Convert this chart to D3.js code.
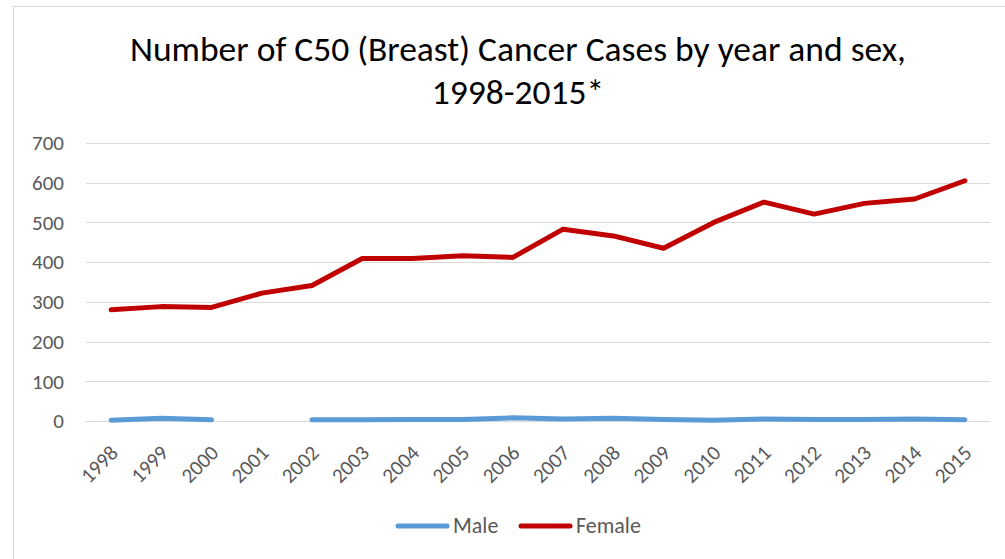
<!DOCTYPE html>
<html>
<head>
<meta charset="utf-8">
<script src="https://cdn.jsdelivr.net/npm/d3@7"></script>
<style>
  html, body { margin: 0; padding: 0; background: #fff; }
  svg { display: block; }
</style>
</head>
<body>
<svg id="chart" width="1005" height="559"></svg>
<script>
const years = ["1998","1999","2000","2001","2002","2003","2004","2005","2006","2007","2008","2009","2010","2011","2012","2013","2014","2015"];
const maleValues = [2, 7, 3, null, 3, 3, 4, 4, 8, 5, 7, 4, 2, 5, 4, 4, 5, 3];
const femaleValues = [280, 288, 286, 322, 341, 409, 409, 416, 412, 483, 466, 435, 500, 551, 521, 548, 559, 605];
const yTicks = [0, 100, 200, 300, 400, 500, 600, 700];
const titleLines = ["Number of C50 (Breast) Cancer Cases by year and sex,", "1998-2015*"];
const seriesNames = ["Male", "Female"];
const seriesColors = ["#5b9bd5", "#c00000"];

(function () {
const font = "'Carlito', 'Lato', sans-serif";
const svg = d3.select("#chart");

// chart border
svg.append("rect").attr("x", 13.5).attr("y", 6.5).attr("width", 1100).attr("height", 600)
  .attr("fill", "none").attr("stroke", "#d9d9d9").attr("stroke-width", 1);

const pLeft = 86, pRight = 990, pTop = 143, pBottom = 421;

const x = d3.scaleBand().domain(years).range([pLeft, pRight]).padding(0);
const y = d3.scaleLinear().domain([0, 700]).range([pBottom, pTop]);

// title
svg.append("g").selectAll("text").data(titleLines).enter().append("text")
  .attr("x", 518).attr("y", (d, i) => 61 + i * 42.5)
  .attr("text-anchor", "middle")
  .attr("font-family", font).attr("font-size", 35.5).attr("fill", "#000")
  .text(d => d);

// gridlines
svg.append("g").selectAll("line").data(yTicks).enter().append("line")
  .attr("x1", pLeft).attr("x2", pRight)
  .attr("y1", d => Math.round(y(d)) + 0.5).attr("y2", d => Math.round(y(d)) + 0.5)
  .attr("stroke", "#d9d9d9").attr("stroke-width", 1);

// y axis labels
const yAxis = d3.axisLeft(y).tickValues(yTicks).tickSize(0).tickPadding(0);
const yg = svg.append("g").attr("transform", `translate(${pLeft - 22},0)`).call(yAxis);
yg.select(".domain").remove();
yg.selectAll("text").attr("font-family", font).attr("font-size", 21).attr("fill", "#595959");

// x axis labels
const cx = d => x(d) + x.bandwidth() / 2;
const xAxis = d3.axisBottom(x).tickSize(0).tickPadding(0);
const xg = svg.append("g").attr("transform", `translate(0,0)`).call(xAxis);
xg.select(".domain").remove();
xg.selectAll(".tick").attr("transform", d => `translate(${cx(d) + 3},${pBottom + 28})`);
xg.selectAll("text")
  .attr("font-family", font).attr("font-size", 21).attr("fill", "#595959")
  .attr("text-anchor", "end")
  .attr("x", 0).attr("y", 0)
  .attr("dy", "0.35em")
  .attr("transform", "rotate(-45)");

// lines
const series = [maleValues, femaleValues];
series.forEach((vals, i) => {
  const line = d3.line()
    .defined(d => d.v !== null)
    .x(d => cx(d.year))
    .y(d => y(d.v));
  svg.append("path")
    .datum(years.map((yr, j) => ({ year: yr, v: vals[j] })))
    .attr("d", line)
    .attr("fill", "none")
    .attr("stroke", seriesColors[i])
    .attr("stroke-width", 5)
    .attr("stroke-linecap", "round")
    .attr("stroke-linejoin", "round");
});

// legend
const legendItems = [{ x0: 398, name: seriesNames[0], color: seriesColors[0] },
                     { x0: 521, name: seriesNames[1], color: seriesColors[1] }];
const lg = svg.append("g");
legendItems.forEach(it => {
  lg.append("line").attr("x1", it.x0).attr("x2", it.x0 + 49).attr("y1", 526).attr("y2", 526)
    .attr("stroke", it.color).attr("stroke-width", 5).attr("stroke-linecap", "round");
  lg.append("text").attr("x", it.x0 + 55).attr("y", 533)
    .attr("font-family", font).attr("font-size", 22).attr("fill", "#595959")
    .text(it.name);
});
})();
</script>
</body>
</html>
